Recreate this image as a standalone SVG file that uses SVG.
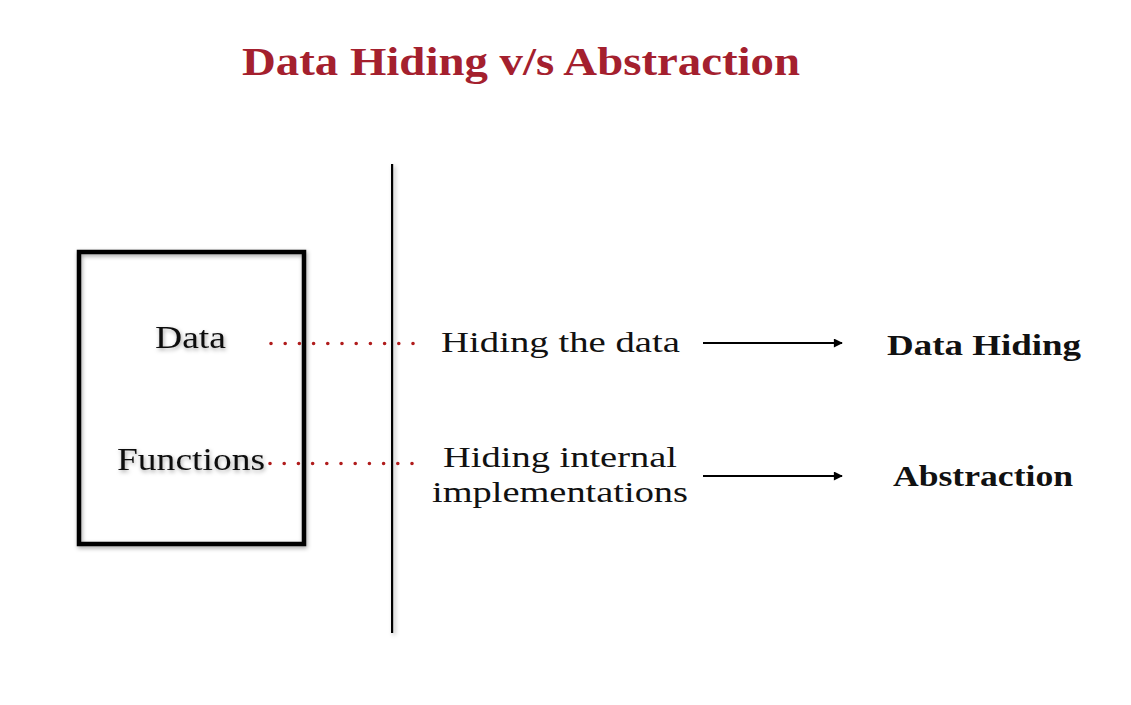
<svg xmlns="http://www.w3.org/2000/svg" width="1131" height="705" viewBox="0 0 1131 705">
  <style>
    .title { font-family: "Liberation Serif", "DejaVu Serif", serif; font-weight: bold; font-size: 41px; fill: #a4202e; }
    .lbl { font-family: "Liberation Serif", "DejaVu Serif", serif; font-size: 31px; fill: #111; }
    .desc { font-family: "Liberation Serif", "DejaVu Serif", serif; font-size: 30px; fill: #111; }
    .term { font-family: "Liberation Serif", "DejaVu Serif", serif; font-weight: bold; font-size: 30px; fill: #111; }
    .dots { fill: none; stroke: #b01c1c; stroke-width: 3.6; stroke-linecap: round; stroke-dasharray: 0 14.2; }
    .arrow { fill: none; stroke: #000; stroke-width: 2; marker-end: url(#head); }
  </style>
  <defs>
    <marker id="head" viewBox="0 0 10 10" refX="9" refY="5" markerWidth="11" markerHeight="9" markerUnits="userSpaceOnUse" orient="auto">
      <path d="M0,0 L10,5 L0,10 Z" fill="#000"/>
    </marker>
    <filter id="soft" x="-20%" y="-20%" width="140%" height="140%">
      <feDropShadow dx="1" dy="2" stdDeviation="2" flood-color="#000" flood-opacity="0.35"/>
    </filter>
    <filter id="lineShadow" filterUnits="userSpaceOnUse" x="370" y="150" width="50" height="500">
      <feDropShadow dx="2" dy="2" stdDeviation="2" flood-color="#000" flood-opacity="0.3"/>
    </filter>
  </defs>
  <rect width="1131" height="705" fill="#fff"/>

  <text class="title" x="242" y="75" textLength="558" lengthAdjust="spacingAndGlyphs">Data Hiding v/s Abstraction</text>

  <!-- container box -->
  <g id="box">
    <rect x="79" y="252" width="225" height="292" fill="none" stroke="#000" stroke-width="4.5" filter="url(#soft)"/>
    <text class="lbl" x="155" y="348" textLength="71" lengthAdjust="spacingAndGlyphs" filter="url(#soft)">Data</text>
    <text class="lbl" x="117" y="470" textLength="148" lengthAdjust="spacingAndGlyphs" filter="url(#soft)">Functions</text>
  </g>

  <!-- divider -->
  <g id="divider">
    <rect x="391" y="164" width="2.2" height="469" fill="#000" filter="url(#lineShadow)"/>
  </g>

  <g id="desc-data">
    <text class="desc" x="441" y="352" textLength="239" lengthAdjust="spacingAndGlyphs">Hiding the data</text>
  </g>
  <g id="desc-functions">
    <text class="desc" x="443" y="467" textLength="234" lengthAdjust="spacingAndGlyphs">Hiding internal</text>
    <text class="desc" x="432" y="502" textLength="256" lengthAdjust="spacingAndGlyphs">implementations</text>
  </g>

  <g id="term-data-hiding">
    <text class="term" x="887" y="355" textLength="194" lengthAdjust="spacingAndGlyphs">Data Hiding</text>
  </g>
  <g id="term-abstraction">
    <text class="term" x="893" y="486" textLength="180" lengthAdjust="spacingAndGlyphs">Abstraction</text>
  </g>

  <!-- connectors -->
  <g id="connectors">
    <path class="dots" d="M271,343.5 H415"/>
    <path class="dots" d="M270,463.5 H415"/>
    <path class="arrow" d="M703,343 H842"/>
    <path class="arrow" d="M703,476 H842"/>
  </g>
</svg>
